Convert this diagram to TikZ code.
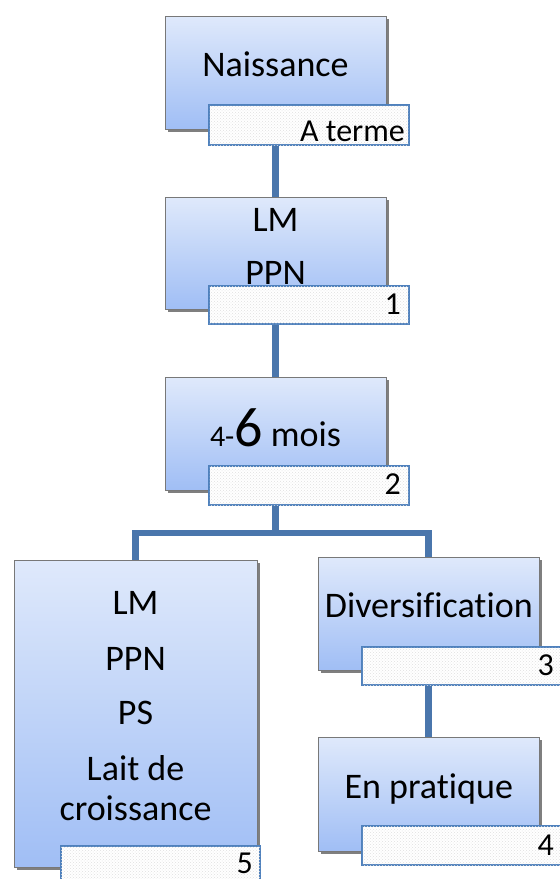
\documentclass[tikz,border=0pt]{standalone}
\usepackage{fontspec}
\setmainfont[Ligatures=NoCommon]{Carlito}
\usetikzlibrary{shadows,patterns,backgrounds}
\definecolor{conn}{RGB}{74,118,172}
\definecolor{lblborder}{RGB}{79,129,189}
\definecolor{boxtop}{RGB}{223,233,251}
\definecolor{boxbot}{RGB}{160,190,245}
\definecolor{boxborder}{RGB}{120,120,120}
\begin{document}
\begin{tikzpicture}[x=1pt,y=-1pt,
  stagebox/.style={rectangle, draw=boxborder, line width=0.9pt, top color=boxtop, bottom color=boxbot,
    drop shadow={shadow xshift=2.5pt, shadow yshift=-2.5pt, fill=black, opacity=0.5}, inner sep=0pt},
  numbox/.style={rectangle, draw=lblborder, line width=2.8pt, fill=white, minimum width=200pt, inner sep=0pt,
    postaction={pattern=crosshatch dots, pattern color=black!12}},
  maintext/.style={inner sep=0pt, anchor=base, font=\fontsize{36}{43}\selectfont},
  numtext/.style={inner sep=0pt, anchor=base east, font=\fontsize{32}{38}\selectfont},
  link/.style={draw=conn, line width=6.5pt}]
\begin{scope}[on background layer]
\fill[white] (0,0) rectangle (560,879);
\end{scope}
\useasboundingbox (0,0) rectangle (560,879);

% stage boxes
\node[stagebox, minimum width=221pt, minimum height=113pt] (n1) at (275.5,72.5) {};
\node[stagebox, minimum width=221pt, minimum height=112pt] (n2) at (275.5,253) {};
\node[stagebox, minimum width=221pt, minimum height=113pt] (n3) at (275.5,433.5) {};
\node[stagebox, minimum width=243pt, minimum height=307pt] (n4) at (135.5,713.5) {};
\node[stagebox, minimum width=221pt, minimum height=113pt] (n5) at (428.5,613.5) {};
\node[stagebox, minimum width=221pt, minimum height=114pt] (n6) at (428.5,794) {};

% texts
\node[maintext] (t1) at (275.5,76) {Naissance};
\node[maintext] (t2a) at (275.5,231) {LM};
\node[maintext] (t2b) at (275.5,284) {PPN};
\node[maintext] (t3) at (275.5,446) {{\fontsize{30}{30}\selectfont 4-}{\fontsize{56}{60}\selectfont 6} mois};
\node[maintext] (t4a) at (135.5,614) {LM};
\node[maintext] (t4b) at (135.5,670) {PPN};
\node[maintext] (t4c) at (135.5,724) {PS};
\node[maintext] (t4d) at (135.5,780) {Lait de};
\node[maintext] (t4e) at (135.5,820) {croissance};
\node[maintext] (t5) at (428.8,617) {Diversification};
\node[maintext] (t6) at (428.8,798) {En pratique};

% connectors
\coordinate (br) at (275.5,533);
\begin{scope}[on background layer]
\draw[link] (n1.south) -- (n2.north);
\draw[link] (n2.south) -- (n3.north);
\draw[link] (n3.south) -- (br);
\draw[link] (n4.north) |- (br) -| (n5.north);
\draw[link] (n5.south) -- (n6.north);
\end{scope}

% number boxes
\node[numbox, minimum height=40pt] (l1) at (309,125) {};
\node[numbox, minimum height=38pt] (l2) at (309,305) {};
\node[numbox, minimum height=39pt] (l3) at (309,485.5) {};
\node[numbox, minimum width=199pt, minimum height=39pt] (l4) at (160.5,865.5) {};
\node[numbox, minimum height=38pt] (l5) at (462,666) {};
\node[numbox, minimum height=39pt] (l6) at (462,845.5) {};

\node[numtext] (m1) at (405,141) {A terme};
\node[numtext] (m2) at (401,314) {1};
\node[numtext] (m3) at (401,494) {2};
\node[numtext] (m4) at (253,873) {5};
\node[numtext] (m5) at (554,675) {3};
\node[numtext] (m6) at (554,855) {4};
\end{tikzpicture}
\end{document}
